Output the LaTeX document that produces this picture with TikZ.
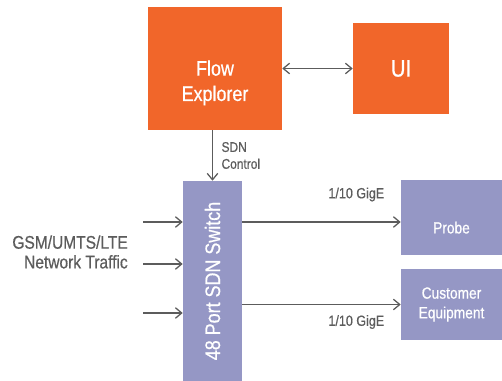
\documentclass[tikz,border=0pt]{standalone}
\usepackage{xcolor}
\usepackage{fontspec}
\setmainfont{Liberation Sans}[FakeStretch=0.85,FakeBold=0.6]
\usepackage{tikz}
\usetikzlibrary{calc,arrows.meta}
\definecolor{flowor}{HTML}{F1662A}
\definecolor{portpu}{HTML}{9597C5}
\definecolor{linegr}{HTML}{5C5C5C}
\tikzset{
  orbox/.style={fill=flowor,text=white,inner sep=0pt,align=center},
  pubox/.style={fill=portpu,text=white,inner sep=0pt,align=center},
  conn/.style={draw=linegr,line width=0.9pt,-{Straight Barb[length=4.5pt,width=7.5pt]}},
  lbl/.style={text=linegr,inner sep=0pt}
}

\begin{document}
\begin{tikzpicture}
\useasboundingbox (0,0) rectangle (12.55,9.525);
%\draw[help lines] (0,0) grid (12,9);
\node[orbox,minimum width=3.35cm,minimum height=3.075cm,font=\fontsize{15}{18}\selectfont] (fe) at (5.375,7.8125) {\rule{0pt}{1.1cm}Flow\\Explorer};
\node[orbox,minimum width=2.4cm,minimum height=2.275cm,font=\fontsize{17}{20}\selectfont] (ui) at (10.025,7.8125) {UI};
\node[pubox,minimum width=5.0cm,minimum height=1.475cm,rotate=90,font=\fontsize{15}{18}\selectfont] (sw) at (5.3125,2.5) {48 Port SDN Switch};
\node[pubox,minimum width=2.525cm,minimum height=1.875cm,font=\fontsize{11.5}{14}\selectfont] (probe) at (11.2875,4.0875) {\rule{0pt}{0.8cm}Probe};
\node[pubox,minimum width=2.525cm,minimum height=1.775cm,font=\fontsize{11.5}{14}\selectfont] (cust) at (11.2875,1.9125) {Customer\\Equipment};
\node[lbl,anchor=east,align=right,font=\fontsize{13}{14}\selectfont] (gsm) at (3.2,3.225) {GSM/UMTS/LTE\\Network Traffic};
\coordinate (in1) at (3.575,3.975);
\coordinate (in2) at (3.575,2.925);
\coordinate (in3) at (3.575,1.7);
\coordinate (o1) at ($(sw.south |- probe)+(0,-0.1125)$);
\coordinate (o2) at (sw.south |- cust);

\draw[conn,{Straight Barb[length=4.5pt,width=7.5pt]}-{Straight Barb[length=4.5pt,width=7.5pt]}] (fe.east) -- (ui.west);
\draw[conn] (fe.south -| sw.east) -- node[lbl,anchor=west,align=left,xshift=6pt,font=\fontsize{10}{12}\selectfont] (sdnc) {SDN\\Control} (sw.east);
\draw[conn] (in1) -- (in1 -| sw.north);
\draw[conn] (in2) -- (in2 -| sw.north);
\draw[conn] (in3) -- (in3 -| sw.north);
\draw[conn] (o1) -- (o1 -| probe.west) node[lbl,pos=0.72,above=0.5cm,font=\fontsize{10.5}{12}\selectfont] (g1) {1/10 GigE};
\draw[conn] (o2) -- (o2 -| cust.west) node[lbl,pos=0.72,below=0.25cm,font=\fontsize{10.5}{12}\selectfont] (g2) {1/10 GigE};
\end{tikzpicture}
\end{document}
